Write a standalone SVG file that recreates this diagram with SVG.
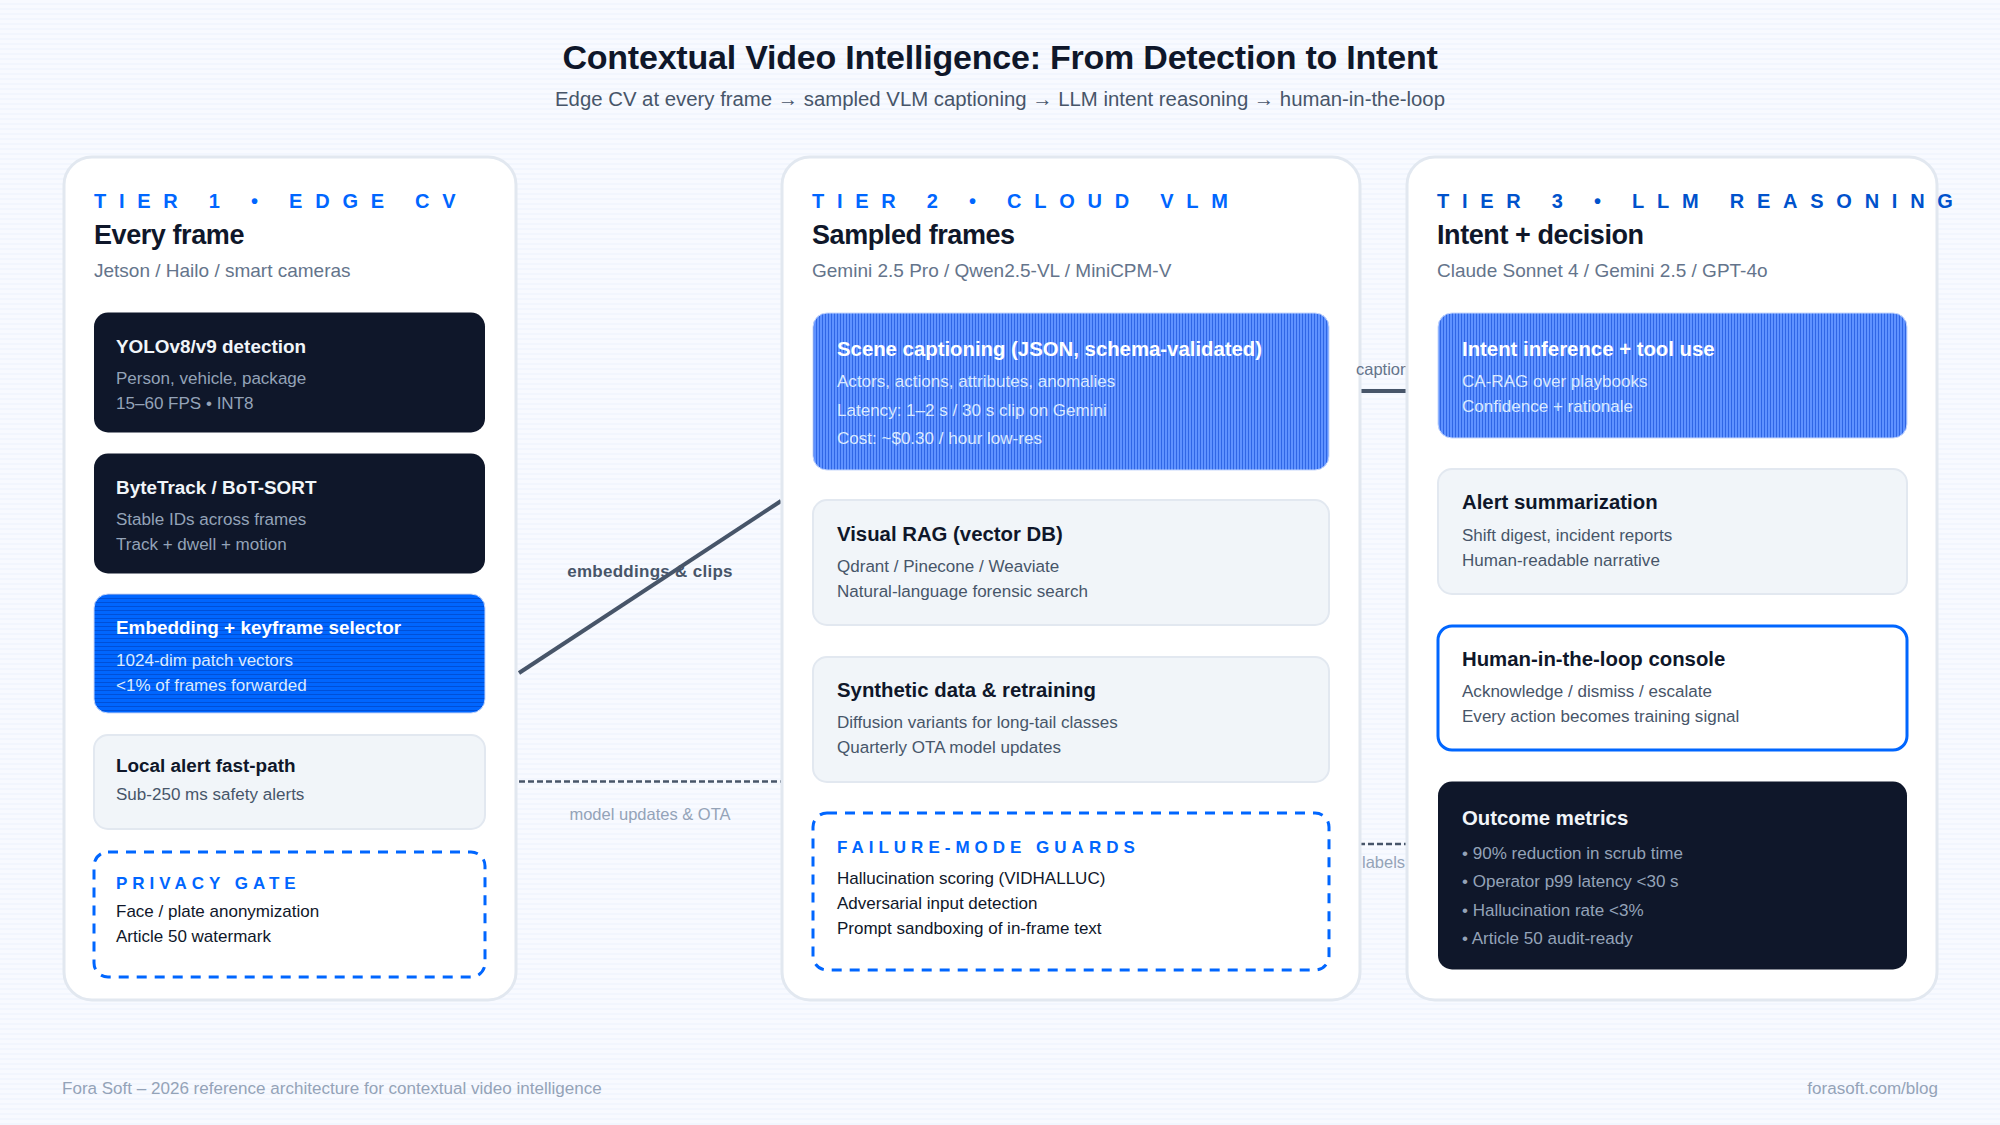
<svg xmlns="http://www.w3.org/2000/svg" width="2000" height="1125" viewBox="0 0 2000 1125">
<style>
text{font-family:"Liberation Sans",Arial,sans-serif}
.card{fill:#fff;stroke:#e2e8f0;stroke-width:3}
.tier{font-size:20px;font-weight:700;letter-spacing:12.75px}
.h2{font-size:27px;font-weight:700;fill:#0f172a;letter-spacing:-.42px}
.sub{font-size:19px;fill:#64748b}
.nt{font-size:20.35px;font-weight:700}
.nt1{font-size:18.9px;font-weight:700}
.ns{font-size:17.05px}
.dark rect{fill:#0f172a}
.dark .nt,.dark .nt1{fill:#f1f5f9}.dark .ns{fill:#94a3b8}
.mute rect{fill:#f1f5f9;stroke:#e2e8f0;stroke-width:2}
.mute .nt,.mute .nt1{fill:#0f172a}.mute .ns{fill:#475569}
.blue rect{stroke:#c7d7fb;stroke-width:1}
.blue text{fill:#dbeafe}.blue .nt,.blue .nt1{fill:#fff}
.guard rect{fill:#fff;stroke:#0066ff;stroke-width:3;stroke-dasharray:10 8}
.glabel{font-size:17px;font-weight:700;letter-spacing:5px;fill:#0066ff}
.gs{font-size:17px;fill:#0f172a}
.lab{font-size:16.5px;fill:#94a3b8}
.foot{font-size:17.05px;fill:#94a3b8}
</style>
<defs>
<pattern id="bg" width="5" height="5" patternUnits="userSpaceOnUse"><rect width="5" height="5" fill="#f8faff"/><rect y="3" width="5" height="2" fill="#f2f6fe"/></pattern>
<pattern id="vs" width="3" height="3" patternUnits="userSpaceOnUse"><rect width="3" height="3" fill="#5f92ff"/><rect width="1" height="3" fill="#2f66e6"/></pattern>
<pattern id="hs" width="4" height="4" patternUnits="userSpaceOnUse"><rect width="4" height="4" fill="#0066ff"/><rect y="2" width="4" height="1" fill="#0050d8"/></pattern>
</defs>
<rect width="2000" height="1125" fill="url(#bg)"/>
<text x="1000" y="69" text-anchor="middle" font-size="34" font-weight="700" fill="#0f172a" letter-spacing="-.22">Contextual Video Intelligence: From Detection to Intent</text>
<text x="1000" y="106" text-anchor="middle" font-size="20.35" fill="#475569">Edge CV at every frame → sampled VLM captioning → LLM intent reasoning → human-in-the-loop</text>

<g id="connectors" fill="none">
<line x1="519" y1="673" x2="781" y2="501" stroke="#475569" stroke-width="4"/>
<line x1="519" y1="781.5" x2="781" y2="781.5" stroke="#475569" stroke-width="2.5" stroke-dasharray="6 3"/>
<line x1="1359" y1="391" x2="1406" y2="391" stroke="#475569" stroke-width="4"/>
<line x1="1359" y1="844" x2="1406" y2="844" stroke="#475569" stroke-width="2.5" stroke-dasharray="6 3"/>
</g>

<g id="tier1">
<rect class="card" x="64" y="157" width="452" height="843" rx="28"/>
<text class="tier" x="94" y="208" fill="#0066ff">TIER 1 • EDGE CV</text>
<text class="h2" x="94" y="244">Every frame</text>
<text class="sub" x="94" y="277">Jetson / Hailo / smart cameras</text>
</g>
<g id="yolo" class="dark"><rect x="94" y="312.6" width="391" height="119.8" rx="14"/><text class="nt1" x="116" y="353">YOLOv8/v9 detection</text><text class="ns" x="116" y="383.5">Person, vehicle, package</text><text class="ns" x="116" y="409">15–60 FPS • INT8</text></g>
<g id="bytetrack" class="dark"><rect x="94" y="453.6" width="391" height="119.8" rx="14"/><text class="nt1" x="116" y="494">ByteTrack / BoT-SORT</text><text class="ns" x="116" y="525">Stable IDs across frames</text><text class="ns" x="116" y="550">Track + dwell + motion</text></g>
<g id="embedding" class="blue"><rect x="94" y="594" width="391" height="119" rx="14" fill="url(#hs)"/><text class="nt1" x="116" y="634">Embedding + keyframe selector</text><text class="ns" x="116" y="665.5">1024-dim patch vectors</text><text class="ns" x="116" y="690.5">&lt;1% of frames forwarded</text></g>
<g id="local" class="mute"><rect x="94" y="735" width="391" height="94" rx="14"/><text class="nt1" x="116" y="772">Local alert fast-path</text><text class="ns" x="116" y="800">Sub-250 ms safety alerts</text></g>
<g id="privacy" class="guard"><rect x="94" y="852" width="391" height="125" rx="14"/><text class="glabel" x="116" y="889">PRIVACY GATE</text><text class="gs" x="116" y="917">Face / plate anonymization</text><text class="gs" x="116" y="942">Article 50 watermark</text></g>

<g id="tier2">
<rect class="card" x="782" y="157" width="578" height="843" rx="28"/>
<text class="tier" x="812" y="208" fill="#0066ff">TIER 2 • CLOUD VLM</text>
<text class="h2" x="812" y="244">Sampled frames</text>
<text class="sub" x="812" y="277">Gemini 2.5 Pro / Qwen2.5-VL / MiniCPM-V</text>
</g>
<g id="caption" class="blue"><rect x="813" y="313" width="516" height="157" rx="14" fill="url(#vs)"/><text class="nt" x="837" y="356">Scene captioning (JSON, schema-validated)</text><text class="ns" x="837" y="387">Actors, actions, attributes, anomalies</text><text class="ns" x="837" y="416">Latency: 1–2 s / 30 s clip on Gemini</text><text class="ns" x="837" y="444">Cost: ~$0.30 / hour low-res</text></g>
<g id="rag" class="mute"><rect x="813" y="500" width="516" height="125" rx="14"/><text class="nt" x="837" y="541">Visual RAG (vector DB)</text><text class="ns" x="837" y="572">Qdrant / Pinecone / Weaviate</text><text class="ns" x="837" y="597">Natural-language forensic search</text></g>
<g id="synthetic" class="mute"><rect x="813" y="657" width="516" height="125" rx="14"/><text class="nt" x="837" y="697">Synthetic data &amp; retraining</text><text class="ns" x="837" y="728">Diffusion variants for long-tail classes</text><text class="ns" x="837" y="753">Quarterly OTA model updates</text></g>
<g id="guards" class="guard"><rect x="813" y="813" width="516" height="157" rx="14"/><text class="glabel" x="837" y="853">FAILURE-MODE GUARDS</text><text class="gs" x="837" y="884">Hallucination scoring (VIDHALLUC)</text><text class="gs" x="837" y="909">Adversarial input detection</text><text class="gs" x="837" y="934">Prompt sandboxing of in-frame text</text></g>

<text x="1356" y="375" style="font-size:16.5px;fill:#64748b">caption</text>

<g id="tier3">
<rect class="card" x="1407" y="157" width="530" height="843" rx="28"/>
<text class="tier" x="1437" y="208" fill="#0052cc">TIER 3 • LLM REASONING</text>
<text class="h2" x="1437" y="244">Intent + decision</text>
<text class="sub" x="1437" y="277">Claude Sonnet 4 / Gemini 2.5 / GPT-4o</text>
</g>
<g id="intent" class="blue"><rect x="1438" y="313" width="469" height="125" rx="14" fill="url(#vs)"/><text class="nt" x="1462" y="356">Intent inference + tool use</text><text class="ns" x="1462" y="387">CA-RAG over playbooks</text><text class="ns" x="1462" y="412">Confidence + rationale</text></g>
<g id="alert" class="mute"><rect x="1438" y="469" width="469" height="125" rx="14"/><text class="nt" x="1462" y="509">Alert summarization</text><text class="ns" x="1462" y="541">Shift digest, incident reports</text><text class="ns" x="1462" y="566">Human-readable narrative</text></g>
<g id="hitl"><rect x="1438" y="626" width="469" height="124" rx="14" fill="#fff" stroke="#0066ff" stroke-width="3"/><text class="nt" x="1462" y="665.5" fill="#0f172a">Human-in-the-loop console</text><text class="ns" x="1462" y="697" fill="#475569">Acknowledge / dismiss / escalate</text><text class="ns" x="1462" y="722" fill="#475569">Every action becomes training signal</text></g>
<g id="metrics" class="dark"><rect x="1438" y="781.6" width="469" height="187.8" rx="14"/><text class="nt" x="1462" y="824.5">Outcome metrics</text><text class="ns" x="1462" y="859">• 90% reduction in scrub time</text><text class="ns" x="1462" y="887">• Operator p99 latency &lt;30 s</text><text class="ns" x="1462" y="916">• Hallucination rate &lt;3%</text><text class="ns" x="1462" y="944">• Article 50 audit-ready</text></g>

<g id="edge-labels">
<text x="650" y="577" text-anchor="middle" font-size="17" font-weight="700" fill="#475569" letter-spacing=".28">embeddings &amp; clips</text>
<text x="650" y="820" text-anchor="middle" class="lab">model updates &amp; OTA</text>
<text x="1362" y="868" class="lab">labels</text>
</g>
<text class="foot" x="62" y="1094">Fora Soft – 2026 reference architecture for contextual video intelligence</text>
<text class="foot" x="1938" y="1094" text-anchor="end">forasoft.com/blog</text>
</svg>
